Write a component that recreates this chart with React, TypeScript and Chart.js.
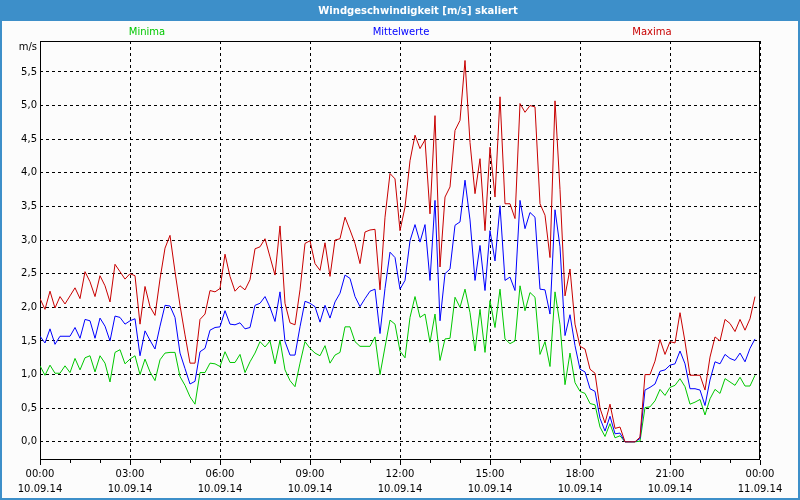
import React, { useEffect, useRef } from "react";
import { Chart, registerables } from "chart.js";

Chart.register(...registerables);

// 10-minute samples, 10.09.14 00:00 .. 23:50
const sampleStepMinutes = 10;

const maxima = [
  2.13, 1.97, 2.24, 1.99, 2.16, 2.05, 2.17, 2.29, 2.13, 2.53, 2.38, 2.16, 2.47, 2.32, 2.08, 2.64,
  2.53, 2.42, 2.50, 2.47, 1.75, 2.31, 2.01, 1.88, 2.42, 2.88, 3.07, 2.53, 2.03, 1.59, 1.17, 1.17,
  1.82, 1.90, 2.25, 2.23, 2.28, 2.79, 2.46, 2.24, 2.32, 2.26, 2.41, 2.87, 2.90, 3.02, 2.75, 2.48,
  3.21, 2.06, 1.77, 1.74, 2.26, 2.95, 2.99, 2.65, 2.55, 2.96, 2.46, 3.00, 3.02, 3.34, 3.15, 2.95,
  2.65, 3.12, 3.15, 3.16, 2.26, 3.34, 3.99, 3.91, 3.14, 3.49, 4.18, 4.56, 4.36, 4.49, 3.39, 4.85,
  2.60, 3.64, 3.79, 4.63, 4.78, 5.67, 4.45, 3.69, 4.21, 3.14, 4.38, 3.64, 5.13, 3.54, 3.54, 3.32,
  5.03, 4.90, 5.00, 4.98, 3.54, 3.37, 2.74, 5.07, 3.75, 2.17, 2.57, 1.75, 1.42, 1.38, 1.08, 1.02,
  0.50, 0.28, 0.56, 0.20, 0.22, 0.00, 0.00, 0.00, 0.07, 1.00, 1.00, 1.20, 1.52, 1.30, 1.49, 1.47,
  1.92, 1.49, 0.99, 0.99, 0.99, 0.77, 1.26, 1.56, 1.50, 1.82, 1.76, 1.64, 1.82, 1.66, 1.83, 2.16,
];

const mittelwerte = [
  1.57, 1.47, 1.68, 1.45, 1.57, 1.57, 1.57, 1.70, 1.54, 1.82, 1.80, 1.54, 1.84, 1.72, 1.50, 1.87,
  1.85, 1.75, 1.80, 1.83, 1.28, 1.65, 1.51, 1.38, 1.72, 2.03, 2.02, 1.85, 1.32, 1.09, 0.86, 0.90,
  1.34, 1.39, 1.66, 1.70, 1.71, 1.95, 1.75, 1.74, 1.77, 1.68, 1.70, 2.03, 2.06, 2.16, 2.00, 1.79,
  2.23, 1.49, 1.29, 1.29, 1.71, 2.09, 2.06, 2.01, 1.78, 2.03, 1.84, 2.08, 2.21, 2.48, 2.43, 2.16,
  2.01, 2.13, 2.24, 2.27, 1.61, 2.28, 2.82, 2.74, 2.27, 2.40, 2.99, 3.23, 2.97, 3.23, 2.40, 3.59,
  1.80, 2.50, 2.57, 3.22, 3.27, 3.89, 3.30, 2.40, 2.92, 2.25, 3.14, 2.69, 3.51, 2.40, 2.45, 2.25,
  3.59, 3.17, 3.41, 3.34, 2.27, 2.26, 1.90, 3.45, 2.90, 1.58, 1.89, 1.43, 1.08, 1.04, 0.79, 0.75,
  0.35, 0.16, 0.38, 0.12, 0.13, 0.00, 0.00, 0.00, 0.05, 0.77, 0.81, 0.86, 1.05, 1.07, 1.14, 1.16,
  1.35, 1.16, 0.79, 0.79, 0.77, 0.54, 0.92, 1.19, 1.16, 1.30, 1.24, 1.21, 1.32, 1.19, 1.39, 1.53,
];

const minima = [
  1.13, 0.99, 1.14, 1.02, 1.02, 1.13, 1.03, 1.24, 1.07, 1.25, 1.28, 1.04, 1.28, 1.17, 0.89, 1.33,
  1.37, 1.16, 1.23, 1.28, 1.00, 1.23, 1.04, 0.91, 1.22, 1.32, 1.33, 1.33, 0.97, 0.84, 0.67, 0.56,
  1.03, 1.03, 1.17, 1.16, 1.12, 1.34, 1.18, 1.18, 1.30, 1.03, 1.19, 1.32, 1.49, 1.41, 1.50, 1.16,
  1.51, 1.07, 0.91, 0.82, 1.17, 1.49, 1.39, 1.32, 1.28, 1.43, 1.17, 1.29, 1.33, 1.71, 1.71, 1.49,
  1.42, 1.42, 1.42, 1.56, 1.00, 1.41, 1.81, 1.75, 1.35, 1.25, 1.85, 2.16, 1.85, 1.90, 1.48, 1.90,
  1.21, 1.53, 1.54, 2.15, 2.00, 2.27, 1.92, 1.35, 1.97, 1.33, 2.10, 1.70, 2.27, 1.53, 1.46, 1.50,
  2.32, 1.95, 2.22, 2.15, 1.30, 1.49, 1.12, 2.23, 1.74, 0.85, 1.32, 0.88, 0.75, 0.72, 0.57, 0.55,
  0.22, 0.08, 0.27, 0.06, 0.09, 0.00, 0.00, 0.00, 0.01, 0.51, 0.52, 0.61, 0.78, 0.69, 0.81, 0.84,
  0.94, 0.82, 0.56, 0.59, 0.63, 0.40, 0.64, 0.78, 0.72, 0.94, 0.89, 0.84, 0.96, 0.83, 0.83, 0.99,
];

const xTickTimes = ["00:00", "03:00", "06:00", "09:00", "12:00", "15:00", "18:00", "21:00", "00:00"];
const xTickDates = ["10.09.14", "10.09.14", "10.09.14", "10.09.14", "10.09.14", "10.09.14", "10.09.14", "10.09.14", "11.09.14"];
const yTickValues = [0, 0.5, 1, 1.5, 2, 2.5, 3, 3.5, 4, 4.5, 5, 5.5];

const titleText = "Windgeschwindigkeit [m/s] skaliert";
const unitText = "m/s";
const seriesNames = ["Maxima", "Mittelwerte", "Minima"];

const FONT = "'DejaVu Sans', Verdana, sans-serif";
const RED = "rgb(200,0,0)";
const BLUE = "rgb(0,0,255)";
const GREEN = "rgb(0,200,0)";
const FRAME_BLUE = "#3d8fc9";
const BG = "#fcfcfc";

const toPoints = (arr: number[]) => arr.map((v, i) => ({ x: i * sampleStepMinutes, y: v }));

const decorPlugin = {
  id: "decor",
  beforeDraw(chart: any) {
    const ctx = chart.ctx as CanvasRenderingContext2D;
    const W = chart.width;
    const H = chart.height;
    ctx.save();
    ctx.fillStyle = FRAME_BLUE;
    ctx.fillRect(0, 0, W, H);
    ctx.fillStyle = BG;
    ctx.fillRect(2, 21, W - 4, H - 23);
    // title
    ctx.fillStyle = "#ffffff";
    ctx.font = `bold 10px ${FONT}`;
    ctx.textAlign = "center";
    ctx.textBaseline = "middle";
    ctx.fillText(titleText, 418, 11);
    // legend-like labels
    ctx.font = `10px ${FONT}`;
    ctx.fillStyle = GREEN;
    ctx.fillText(seriesNames[2], 147, 32);
    ctx.fillStyle = BLUE;
    ctx.fillText(seriesNames[1], 401, 32);
    ctx.fillStyle = RED;
    ctx.fillText(seriesNames[0], 652, 32);
    // unit
    ctx.fillStyle = "#000";
    ctx.textAlign = "right";
    ctx.fillText(unitText, 37, 47);
    ctx.restore();
  },
  beforeDatasetsDraw(chart: any) {
    const ctx = chart.ctx as CanvasRenderingContext2D;
    const a = chart.chartArea;
    const xs = chart.scales.x;
    ctx.save();
    ctx.strokeStyle = "#000";
    ctx.lineWidth = 1;
    ctx.setLineDash([]);
    ctx.strokeRect(Math.round(a.left) + 0.5, Math.round(a.top) + 0.5, Math.round(a.right - a.left) - 1, Math.round(a.bottom - a.top) - 1);
    // minor hour ticks
    ctx.beginPath();
    for (let m = 60; m < 1440; m += 60) {
      if (m % 180 === 0) continue;
      const px = Math.round(xs.getPixelForValue(m)) + 0.5;
      ctx.moveTo(px, Math.round(a.bottom));
      ctx.lineTo(px, Math.round(a.bottom) + 3);
    }
    ctx.stroke();
    ctx.restore();
  },
};

export default function App() {
  const ref = useRef<HTMLCanvasElement>(null);

  useEffect(() => {
    if (!ref.current) return;
    const chart = new Chart(ref.current, {
      type: "line",
      data: {
        datasets: [
          { label: seriesNames[0], data: toPoints(maxima), borderColor: RED, borderWidth: 1, pointRadius: 0, tension: 0, fill: false },
          { label: seriesNames[1], data: toPoints(mittelwerte), borderColor: BLUE, borderWidth: 1, pointRadius: 0, tension: 0, fill: false },
          { label: seriesNames[2], data: toPoints(minima), borderColor: GREEN, borderWidth: 1, pointRadius: 0, tension: 0, fill: false },
        ],
      },
      options: {
        responsive: false,
        devicePixelRatio: 1,
        animation: false,
        events: [],
        layout: { padding: { top: 41, right: 40, left: 0, bottom: 0 } },
        plugins: { legend: { display: false }, tooltip: { enabled: false }, title: { display: false } },
        scales: {
          x: {
            type: "linear",
            min: 0,
            max: 1440,
            afterFit: (s: any) => { s.height = 40; },
            border: { display: false, dash: [3, 3] },
            grid: {
              color: (c: any) => (c.tick && c.tick.value % 180 === 0 ? "#000" : "rgba(0,0,0,0)"),
              tickColor: (c: any) => (c.tick && c.tick.value % 180 === 0 ? "#000" : "rgba(0,0,0,0)"),
              tickLength: 5,
              lineWidth: 1,
            },
            ticks: {
              stepSize: 60,
              autoSkip: false,
              maxRotation: 0,
              minRotation: 0,
              padding: 2,
              color: "#000",
              font: { family: FONT, size: 10, lineHeight: 1.5 },
              callback: (v: any) => {
                const n = Number(v);
                if (n % 180 !== 0) return "";
                const k = Math.round(n / 180);
                return [xTickTimes[k], xTickDates[k]];
              },
            },
          },
          y: {
            type: "linear",
            min: -0.27,
            max: 5.96,
            afterFit: (s: any) => { s.width = 40; },
            afterBuildTicks: (s: any) => { s.ticks = yTickValues.map((v) => ({ value: v })); },
            border: { display: false, dash: [3, 3] },
            grid: { color: "#000", lineWidth: 1, drawTicks: false },
            ticks: {
              padding: 3,
              color: "#000",
              font: { family: FONT, size: 10 },
              callback: (v: any) => Number(v).toFixed(1).replace(".", ","),
            },
          },
        },
      },
      plugins: [decorPlugin],
    } as any);
    return () => chart.destroy();
  }, []);

  return (
    <div style={{ position: "fixed", left: 0, top: 0, width: 800, height: 500 }}>
      <canvas ref={ref} width={800} height={500} style={{ display: "block", width: 800, height: 500 }} />
    </div>
  );
}
